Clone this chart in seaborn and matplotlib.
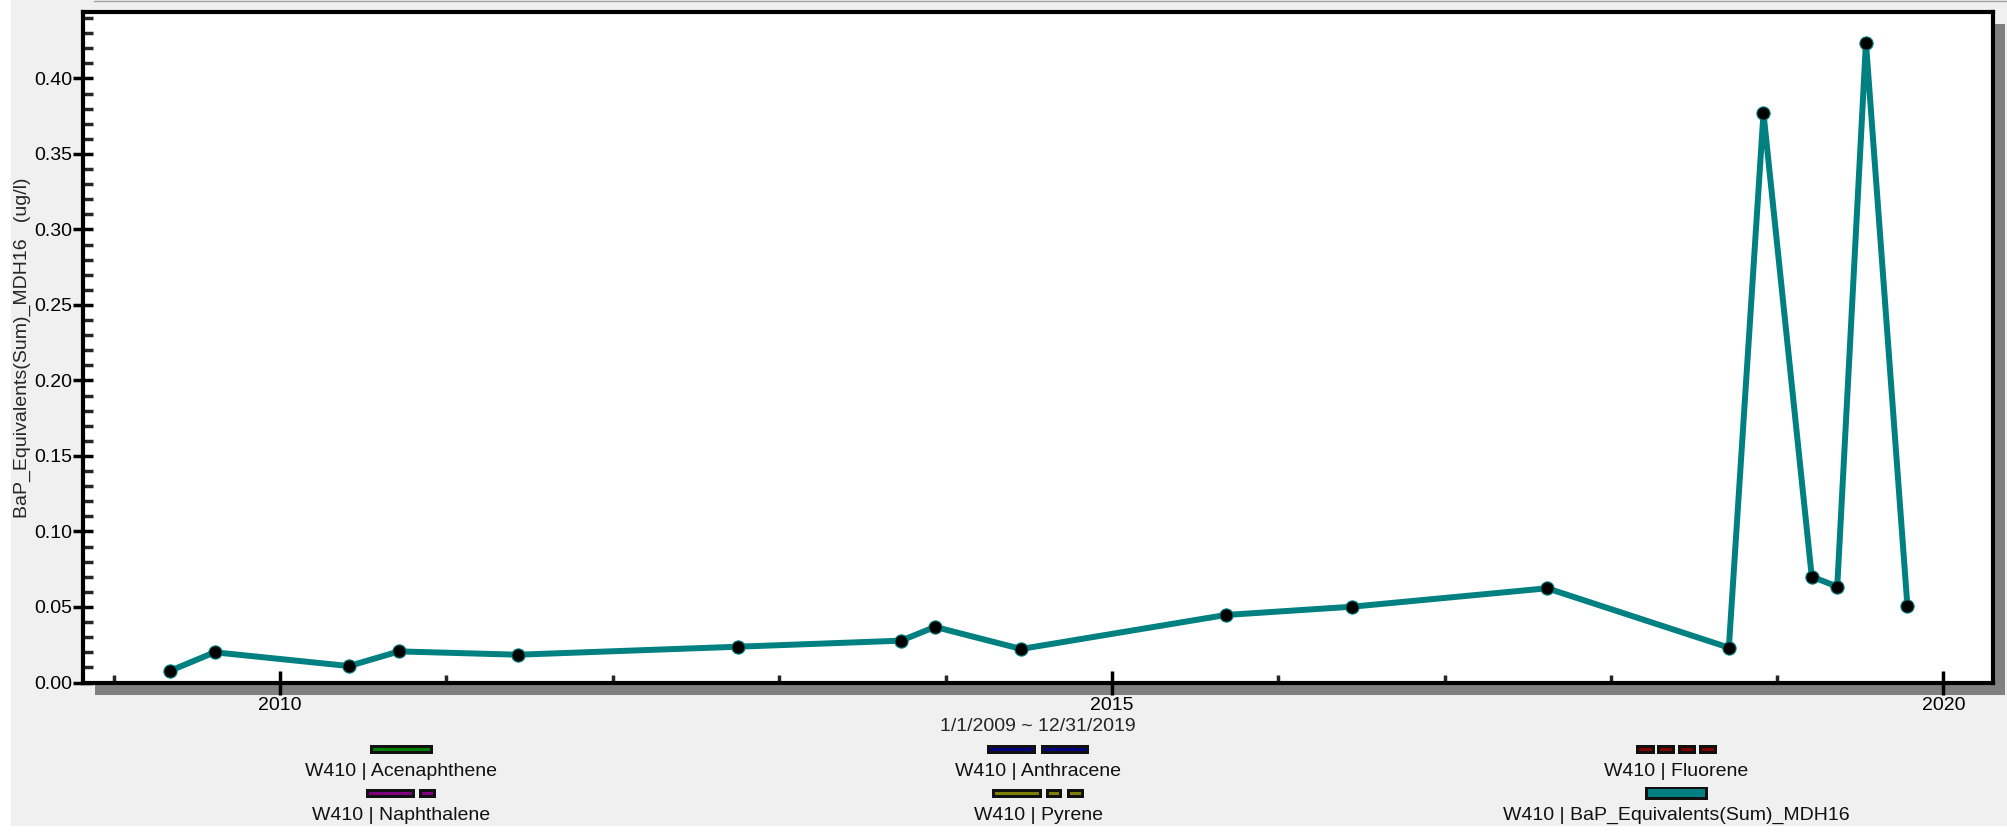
import matplotlib
matplotlib.use("Agg")
import matplotlib.pyplot as plt
import matplotlib.dates as mdates
from matplotlib.patches import Rectangle
from matplotlib.lines import Line2D
from matplotlib.ticker import MultipleLocator, FormatStrFormatter
import pandas as pd
import seaborn as sns

# Sampling dates and BaP equivalent sums at well W410
sample_dates = [
    "2009-05-03", "2009-08-10", "2010-06-01", "2010-09-19", "2011-06-07",
    "2012-10-02", "2013-09-25", "2013-12-09", "2014-06-16", "2015-09-08",
    "2016-06-12", "2017-08-14", "2018-09-17", "2018-12-02", "2019-03-18",
    "2019-05-13", "2019-07-15", "2019-10-14",
]
bap_values = [
    0.0076, 0.0200, 0.0109, 0.0206, 0.0184,
    0.0237, 0.0277, 0.0368, 0.0222, 0.0447,
    0.0502, 0.0624, 0.0231, 0.377, 0.0701,
    0.0635, 0.4237, 0.0509,
]

# Legend entries: parameter names and their line colours
legend_labels = [
    "W410 | Acenaphthene", "W410 | Naphthalene",
    "W410 | Anthracene", "W410 | Pyrene",
    "W410 | Fluorene", "W410 | BaP_Equivalents(Sum)_MDH16",
]
legend_colors = ["#008000", "#800080", "#000080", "#808000", "#800000", "#008080"]

y_label = "BaP_Equivalents(Sum)_MDH16   (ug/l)"
x_label = "1/1/2009 ~ 12/31/2019"

TEAL = "#008080"
W, H = 2007, 833
FS = 14

sns.set_style("ticks")
plt.rcParams["font.family"] = ["Liberation Sans", "DejaVu Sans"]


def fx(px):
    return px / W


def fy(py):
    return 1 - py / H


df = pd.DataFrame({"date": pd.to_datetime(sample_dates), "value": bap_values})

fig = plt.figure(figsize=(W / 100, H / 100), dpi=100, facecolor="white")

# panel background and frame shadow
fig.patches.append(Rectangle((fx(11), fy(826)), 1 - fx(11), fy(0) - fy(826),
                             transform=fig.transFigure, facecolor="#f0f0f0",
                             edgecolor="none", zorder=-3))
fig.add_artist(Line2D([fx(94), 1], [fy(0.5), fy(0.5)], color="#a0a0a0", lw=1,
                      transform=fig.transFigure, zorder=-2))

ax_l, ax_r, ax_t, ax_b = 83, 1993, 12, 682.5
ax = fig.add_axes([fx(ax_l), fy(ax_b), fx(ax_r) - fx(ax_l), fy(ax_t) - fy(ax_b)])
fig.patches.append(Rectangle((fx(ax_l + 12), fy(ax_b + 12)), fx(ax_r) - fx(ax_l),
                             fy(ax_t) - fy(ax_b), transform=fig.transFigure,
                             facecolor="#808080", edgecolor="none", zorder=-1))
ax.set_facecolor("white")

sns.lineplot(data=df, x="date", y="value", ax=ax, color=TEAL, linewidth=4.3,
             marker="o", markersize=9.5, markerfacecolor="black",
             markeredgecolor=TEAL, markeredgewidth=0.8, sort=False, errorbar=None)

ax.set_xlim(pd.Timestamp("2008-10-25"), pd.Timestamp("2020-04-19"))
ax.set_ylim(0, 0.444)

ax.xaxis.set_major_locator(mdates.YearLocator(5))
ax.xaxis.set_minor_locator(mdates.YearLocator(1))
ax.xaxis.set_major_formatter(mdates.DateFormatter("%Y"))
ax.yaxis.set_major_locator(MultipleLocator(0.05))
ax.yaxis.set_minor_locator(MultipleLocator(0.01))
ax.yaxis.set_major_formatter(FormatStrFormatter("%.2f"))

ax.tick_params(axis="y", which="major", direction="inout", length=14, width=2.5,
               labelsize=FS, pad=1, colors="black")
ax.tick_params(axis="y", which="minor", direction="in", length=7, width=2.5)
ax.tick_params(axis="x", which="major", direction="inout", length=17, width=2.5,
               labelsize=FS, pad=2, colors="black")
ax.tick_params(axis="x", which="minor", direction="in", length=6, width=2.5)

for sp in ax.spines.values():
    sp.set_visible(True)
    sp.set_color("black")
    sp.set_linewidth(3.0)

ax.set_ylabel(y_label, fontsize=FS, labelpad=2)
ax.set_xlabel(x_label, fontsize=FS, labelpad=3)

# legend: dashed swatches above centred labels, three columns of two rows
swatch_segments = [
    [(0, 63)],
    [(0, 49), (53, 70)],
    [(0, 49), (54, 102)],
    [(0, 50), (54, 70), (75, 92)],
    [(0, 19), (21, 39), (42, 60), (63, 81)],
    [(0, 63)],
]
col_centers = [401, 1038, 1676]
row_handle_y = [749, 793]
row_text_y = [772, 815]

for i, (label, color, segs) in enumerate(zip(legend_labels, legend_colors, swatch_segments)):
    col, row = divmod(i, 2)
    cx = col_centers[col]
    hy = row_handle_y[row]
    total = segs[-1][1]
    x0 = cx - total / 2
    thick = label.endswith("MDH16")
    h = 13 if thick else 9
    inset_y = 2.5 if thick else 3
    inset_x = 3
    for a, b in segs:
        fig.patches.append(Rectangle((fx(x0 + a), fy(hy + h / 2)), fx(b - a), h / H,
                                     transform=fig.transFigure, facecolor="#111111",
                                     edgecolor="none", zorder=2))
        fig.patches.append(Rectangle((fx(x0 + a + inset_x), fy(hy + h / 2 - inset_y)),
                                     fx(b - a - 2 * inset_x), (h - 2 * inset_y) / H,
                                     transform=fig.transFigure, facecolor=color,
                                     edgecolor="none", zorder=3))
    fig.text(fx(cx), fy(row_text_y[row]), label, ha="center", va="center",
             fontsize=FS, color="#111111")

fig.savefig("out.png", dpi=100, facecolor=fig.get_facecolor())
